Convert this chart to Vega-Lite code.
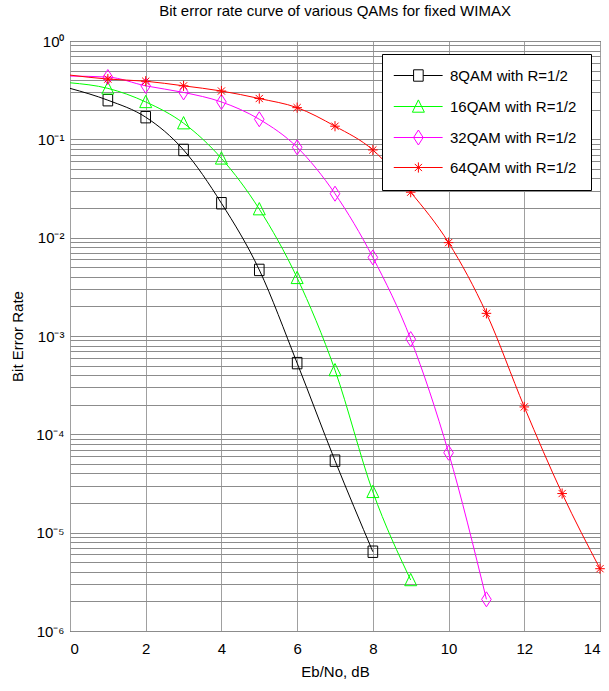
{
  "$schema": "https://vega.github.io/schema/vega-lite/v6.json",
  "width": 530,
  "height": 590,
  "autosize": {"type": "none"},
  "padding": {"left": 70, "top": 41, "right": 9, "bottom": 60},
  "background": "white",
  "title": {
    "text": "Bit error rate curve of various QAMs for fixed WIMAX",
    "font": "Liberation Sans",
    "fontSize": 15,
    "fontWeight": "normal",
    "color": "black",
    "offset": 15
  },
  "config": {
    "view": {"stroke": "black", "strokeWidth": 1},
    "axis": {
      "labelFont": "Liberation Sans",
      "titleFont": "Liberation Sans",
      "labelFontSize": 15,
      "titleFontSize": 15,
      "titleFontWeight": "normal",
      "labelColor": "black",
      "titleColor": "black",
      "ticks": false,
      "domain": false,
      "gridColor": "#8c8c8c",
      "gridWidth": 1,
      "gridOpacity": 1
    },
    "legend": {
      "orient": "none",
      "legendX": 312,
      "legendY": 13,
      "padding": 14,
      "strokeColor": "black",
      "fillColor": "white",
      "cornerRadius": 0,
      "symbolSize": 144,
      "symbolStrokeWidth": 1,
      "symbolOpacity": 1,
      "symbolFillColor": "transparent",
      "labelOffset": 39,
      "labelFont": "Liberation Sans",
      "labelFontSize": 15,
      "labelColor": "black",
      "rowPadding": 13,
      "labelLimit": 300
    }
  },
  "data": {
    "values": [
      {"series": "8QAM with R=1/2", "ebno": 0, "ber": 0.33},
      {"series": "8QAM with R=1/2", "ebno": 1, "ber": 0.25},
      {"series": "8QAM with R=1/2", "ebno": 2, "ber": 0.168},
      {"series": "8QAM with R=1/2", "ebno": 3, "ber": 0.078},
      {"series": "8QAM with R=1/2", "ebno": 4, "ber": 0.0224},
      {"series": "8QAM with R=1/2", "ebno": 5, "ber": 0.0047},
      {"series": "8QAM with R=1/2", "ebno": 6, "ber": 0.00053},
      {"series": "8QAM with R=1/2", "ebno": 7, "ber": 0.000054},
      {"series": "8QAM with R=1/2", "ebno": 8, "ber": 0.0000064},
      {"series": "16QAM with R=1/2", "ebno": 0, "ber": 0.376},
      {"series": "16QAM with R=1/2", "ebno": 1, "ber": 0.33},
      {"series": "16QAM with R=1/2", "ebno": 2, "ber": 0.24},
      {"series": "16QAM with R=1/2", "ebno": 3, "ber": 0.146},
      {"series": "16QAM with R=1/2", "ebno": 4, "ber": 0.064},
      {"series": "16QAM with R=1/2", "ebno": 5, "ber": 0.0195},
      {"series": "16QAM with R=1/2", "ebno": 6, "ber": 0.0039},
      {"series": "16QAM with R=1/2", "ebno": 7, "ber": 0.00045},
      {"series": "16QAM with R=1/2", "ebno": 8, "ber": 0.000026},
      {"series": "16QAM with R=1/2", "ebno": 9, "ber": 0.0000033},
      {"series": "32QAM with R=1/2", "ebno": 0, "ber": 0.44},
      {"series": "32QAM with R=1/2", "ebno": 1, "ber": 0.43},
      {"series": "32QAM with R=1/2", "ebno": 2, "ber": 0.35},
      {"series": "32QAM with R=1/2", "ebno": 3, "ber": 0.30},
      {"series": "32QAM with R=1/2", "ebno": 4, "ber": 0.24},
      {"series": "32QAM with R=1/2", "ebno": 5, "ber": 0.16},
      {"series": "32QAM with R=1/2", "ebno": 6, "ber": 0.083},
      {"series": "32QAM with R=1/2", "ebno": 7, "ber": 0.028},
      {"series": "32QAM with R=1/2", "ebno": 8, "ber": 0.0063},
      {"series": "32QAM with R=1/2", "ebno": 9, "ber": 0.00093},
      {"series": "32QAM with R=1/2", "ebno": 10, "ber": 0.000065},
      {"series": "32QAM with R=1/2", "ebno": 11, "ber": 0.0000021},
      {"series": "64QAM with R=1/2", "ebno": 0, "ber": 0.45},
      {"series": "64QAM with R=1/2", "ebno": 1, "ber": 0.41},
      {"series": "64QAM with R=1/2", "ebno": 2, "ber": 0.39},
      {"series": "64QAM with R=1/2", "ebno": 3, "ber": 0.35},
      {"series": "64QAM with R=1/2", "ebno": 4, "ber": 0.31},
      {"series": "64QAM with R=1/2", "ebno": 5, "ber": 0.26},
      {"series": "64QAM with R=1/2", "ebno": 6, "ber": 0.21},
      {"series": "64QAM with R=1/2", "ebno": 7, "ber": 0.136},
      {"series": "64QAM with R=1/2", "ebno": 8, "ber": 0.078},
      {"series": "64QAM with R=1/2", "ebno": 9, "ber": 0.029},
      {"series": "64QAM with R=1/2", "ebno": 10, "ber": 0.0089},
      {"series": "64QAM with R=1/2", "ebno": 11, "ber": 0.0017},
      {"series": "64QAM with R=1/2", "ebno": 12, "ber": 0.00019},
      {"series": "64QAM with R=1/2", "ebno": 13, "ber": 0.000025},
      {"series": "64QAM with R=1/2", "ebno": 14, "ber": 0.0000043}
    ]
  },
  "encoding": {
    "x": {
      "field": "ebno",
      "type": "quantitative",
      "scale": {"domain": [0, 14], "nice": false, "zero": false},
      "axis": {
        "title": "Eb/No, dB",
        "values": [0, 2, 4, 6, 8, 10, 12, 14],
        "labelPadding": 10,
        "titlePadding": 8,
        "gridColor": "#a0a0a0"
      }
    },
    "y": {
      "field": "ber",
      "type": "quantitative",
      "scale": {"type": "log", "domain": [0.000001, 1], "nice": false},
      "axis": {
        "title": "Bit Error Rate",
        "titlePadding": 10,
        "labelPadding": 6,
        "values": [0.000001, 0.000002, 0.000003, 0.000004, 0.000005, 0.000006, 0.000007, 0.000008, 0.000009,
                   0.00001, 0.00002, 0.00003, 0.00004, 0.00005, 0.00006, 0.00007, 0.00008, 0.00009,
                   0.0001, 0.0002, 0.0003, 0.0004, 0.0005, 0.0006, 0.0007, 0.0008, 0.0009,
                   0.001, 0.002, 0.003, 0.004, 0.005, 0.006, 0.007, 0.008, 0.009,
                   0.01, 0.02, 0.03, 0.04, 0.05, 0.06, 0.07, 0.08, 0.09,
                   0.1, 0.2, 0.3, 0.4, 0.5, 0.6, 0.7, 0.8, 0.9, 1],
        "labelExpr": "datum.value == 1 ? '10⁰' : datum.value == 0.1 ? '10⁻¹' : datum.value == 0.01 ? '10⁻²' : datum.value == 0.001 ? '10⁻³' : datum.value == 0.0001 ? '10⁻⁴' : datum.value == 0.00001 ? '10⁻⁵' : datum.value == 0.000001 ? '10⁻⁶' : ''"
      }
    },
    "color": {
      "field": "series",
      "type": "nominal",
      "scale": {
        "domain": ["8QAM with R=1/2", "16QAM with R=1/2", "32QAM with R=1/2", "64QAM with R=1/2"],
        "range": ["#000000", "#00ff00", "#ff00ff", "#ff0000"]
      },
      "legend": {
        "title": null,
        "encode": {
          "symbols": {
            "update": {
              "shape": {
                "signal": "datum.value == '8QAM with R=1/2' ? 'M-1.62,0L1.68,0M3.28,0L6.52,0M1.68,-0.95L3.28,-0.95L3.28,0.95L1.68,0.95Z' : datum.value == '16QAM with R=1/2' ? 'M-1.62,0L6.52,0M2.48,-1.1L3.48,0.95L1.48,0.95Z' : datum.value == '32QAM with R=1/2' ? 'M-1.62,0L6.52,0M2.48,-1.25L3.28,0L2.48,1.25L1.68,0Z' : 'M-1.62,0L6.52,0M2.48,-0.85L2.48,0.85M1.68,0L3.28,0M1.88,-0.6L3.08,0.6M1.88,0.6L3.08,-0.6'"
              },
              "fill": {"value": "transparent"}
            }
          }
        }
      }
    }
  },
  "layer": [
    {
      "mark": {"type": "line", "interpolate": "monotone", "strokeWidth": 1},
      "encoding": {}
    },
    {
      "transform": [{"filter": "datum.ebno >= 1"}],
      "mark": {"type": "point", "filled": false, "strokeWidth": 1, "size": 144, "opacity": 1},
      "encoding": {
        "shape": {
          "field": "series",
          "type": "nominal",
          "scale": {
            "domain": ["16QAM with R=1/2", "8QAM with R=1/2", "32QAM with R=1/2", "64QAM with R=1/2"],
            "range": [
              "M0,-1.1L1,0.95L-1,0.95Z",
              "M-0.8,-0.95L0.8,-0.95L0.8,0.95L-0.8,0.95Z",
              "M0,-1.25L0.8,0L0,1.25L-0.8,0Z",
              "M0,-0.85L0,0.85M-0.8,0L0.8,0M-0.6,-0.6L0.6,0.6M-0.6,0.6L0.6,-0.6"
            ]
          },
          "legend": null
        }
      }
    }
  ]
}
